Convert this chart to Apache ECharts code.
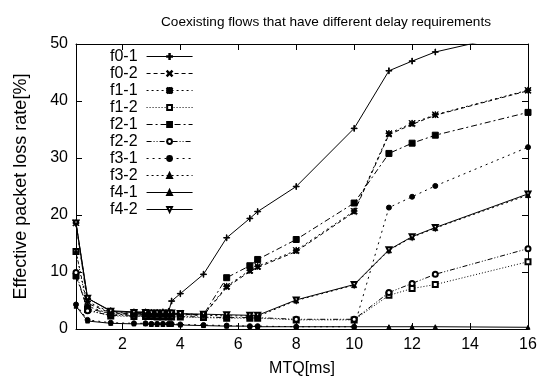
<!DOCTYPE html>
<html>
<head>
<meta charset="utf-8">
<script src="https://cdn.jsdelivr.net/npm/echarts@6/dist/echarts.min.js"></script>
<style>html,body{margin:0;padding:0;background:#fff;}#c{width:542px;height:382px;}</style>
</head>
<body>
<div id="c"></div>
<script>
var titleText = 'Coexisting flows that have different delay requirements';
var xName = 'MTQ[ms]';
var yName = 'Effective packet loss rate[%]';
var xTicks = [2, 4, 6, 8, 10, 12, 14, 16];
var yTicks = [0, 10, 20, 30, 40, 50];
var mtq = [0.4, 0.8, 1.6, 2.4, 2.8, 3.0, 3.2, 3.4, 3.6, 3.7, 4.0, 4.8, 5.6, 6.4, 6.67, 8, 10, 11.2, 12, 12.8, 16];
var names = ['f0-1', 'f0-2', 'f1-1', 'f1-2', 'f2-1', 'f2-2', 'f3-1', 'f3-2', 'f4-1', 'f4-2'];
var f0_1 = [18.6, 5.4, 3.2, 3.0, 3.0, 2.9, 2.9, 3.0, 3.1, 4.9, 6.2, 9.6, 16.0, 19.4, 20.6, 25.0, 35.2, 45.3, 47.0, 48.6, 52.3];
var f0_2 = [18.6, 4.5, 2.8, 2.7, 2.7, 2.6, 2.6, 2.6, 2.6, 2.6, 2.6, 2.4, 7.3, 10.1, 10.8, 13.6, 20.5, 34.1, 35.9, 37.5, 41.8];
var f1_1 = [18.6, 4.8, 2.9, 2.8, 2.8, 2.7, 2.7, 2.7, 2.7, 2.7, 2.7, 2.5, 7.5, 10.3, 11.0, 13.8, 20.7, 34.3, 36.1, 37.6, 41.9];
var f1_2 = [13.6, 3.4, 2.3, 2.2, 2.2, 2.2, 2.1, 2.1, 2.1, 2.1, 2.1, 2.0, 1.9, 1.9, 1.9, 1.6, 1.6, 5.9, 7.1, 7.8, 11.8];
var f2_1 = [9.3, 3.6, 2.7, 2.6, 2.6, 2.6, 2.6, 2.6, 2.6, 2.6, 2.6, 2.5, 9.0, 11.1, 12.2, 15.7, 22.1, 30.8, 32.6, 34.0, 38.0];
var f2_2 = [9.9, 3.2, 2.4, 2.3, 2.3, 2.3, 2.2, 2.2, 2.2, 2.2, 2.2, 2.1, 2.0, 2.0, 2.0, 1.7, 1.7, 6.4, 8.0, 9.6, 14.1];
var f3_1 = [4.3, 1.6, 1.1, 1.0, 1.0, 0.9, 0.9, 0.9, 0.9, 0.9, 0.8, 0.7, 0.6, 0.5, 0.5, 0.4, 0.4, 21.3, 23.2, 25.1, 31.9];
var f3_2 = [13.6, 4.0, 2.6, 2.5, 2.5, 2.5, 2.5, 2.5, 2.5, 2.5, 2.5, 2.4, 2.3, 2.3, 2.2, 5.0, 7.7, 13.8, 16.1, 17.7, 23.5];
var f4_1 = [4.0, 1.4, 1.0, 0.9, 0.9, 0.8, 0.8, 0.8, 0.8, 0.8, 0.7, 0.6, 0.5, 0.5, 0.4, 0.4, 0.4, 0.4, 0.4, 0.4, 0.3];
var f4_2 = [18.6, 5.4, 3.1, 2.9, 2.9, 2.8, 2.8, 2.8, 2.8, 2.8, 2.7, 2.6, 2.5, 2.4, 2.4, 5.1, 7.8, 13.9, 16.2, 17.8, 23.7];
var values = [f0_1, f0_2, f1_1, f1_2, f2_1, f2_2, f3_1, f3_2, f4_1, f4_2];

var PLUS = 'path://M4.5,0 H5.5 V4.5 H10 V5.5 H5.5 V10 H4.5 V5.5 H0 V4.5 H4.5 Z';
var CROSS = 'path://M0.7,0 L5,4.3 L9.3,0 L10,0.7 L5.7,5 L10,9.3 L9.3,10 L5,5.7 L0.7,10 L0,9.3 L4.3,5 L0,0.7 Z';
var STAR = 'path://M4.5,0 H5.5 V4.5 H10 V5.5 H5.5 V10 H4.5 V5.5 H0 V4.5 H4.5 Z M0.7,0 L5,4.3 L9.3,0 L10,0.7 L5.7,5 L10,9.3 L9.3,10 L5,5.7 L0.7,10 L0,9.3 L4.3,5 L0,0.7 Z';
var styles = [
  {sym: PLUS, size: 6, dash: 'solid', rot: 0},
  {sym: CROSS, size: 5, dash: [4, 3], rot: 0},
  {sym: STAR, size: 6, dash: [2, 3], rot: 0},
  {sym: 'emptyRect', size: 5, dash: [1, 2], rot: 0},
  {sym: 'rect', size: 6, dash: [6, 3, 2, 3], rot: 0},
  {sym: 'emptyCircle', size: 5, dash: [5, 2, 1, 2, 1, 2], rot: 0},
  {sym: 'circle', size: 5, dash: [2, 4], rot: 0},
  {sym: 'triangle', size: 5, dash: [2, 3], rot: 0},
  {sym: 'triangle', size: 4, dash: 'solid', rot: 0},
  {sym: 'emptyTriangle', size: 5, dash: 'solid', rot: 180}
];

var FONT = 'Liberation Sans';
var series = names.map(function (n, i) {
  return {
    name: n,
    type: 'line',
    data: mtq.map(function (x, j) { return [x, values[i][j]]; }),
    symbol: styles[i].sym,
    symbolSize: styles[i].size,
    symbolRotate: styles[i].rot,
    lineStyle: {color: '#000', width: 1, type: styles[i].dash},
    itemStyle: {color: '#000', borderColor: '#000', borderWidth: 1},
    emphasis: {disabled: true},
    clip: true
  };
});

var chart = echarts.init(document.getElementById('c'), null, {renderer: 'canvas'});
chart.setOption({
  animation: false,
  backgroundColor: '#fff',
  title: {
    text: titleText, left: 156, top: 10,
    textStyle: {fontFamily: FONT, fontSize: 13.6, fontWeight: 'normal', color: '#000'}
  },
  legend: {
    data: names, orient: 'vertical', left: 110, top: 48, padding: 0,
    align: 'right', itemWidth: 46, itemHeight: 6, itemGap: 0,
    lineStyle: {width: 1},
    textStyle: {fontFamily: FONT, fontSize: 16, lineHeight: 17, color: '#000', padding: [0, 4, 0, 0]},
    selectedMode: false
  },
  grid: {left: 76, right: 14, top: 44, bottom: 51, containLabel: false},
  xAxis: [{
    type: 'value', min: 0.4, max: 16,
    name: xName, nameLocation: 'middle', nameGap: 32,
    nameTextStyle: {fontFamily: FONT, fontSize: 16, color: '#000'},
    axisLine: {show: true, onZero: false, lineStyle: {color: '#000', width: 1}},
    axisTick: {show: true, inside: true, length: 6, customValues: xTicks, lineStyle: {color: '#000'}},
    axisLabel: {customValues: xTicks, fontFamily: FONT, fontSize: 16, color: '#000', margin: 8},
    splitLine: {show: false}
  }, {
    type: 'value', min: 0.4, max: 16, position: 'top',
    axisLine: {show: true, onZero: false, lineStyle: {color: '#000', width: 1}},
    axisTick: {show: true, inside: true, length: 6, customValues: xTicks, lineStyle: {color: '#000'}},
    axisLabel: {show: false},
    splitLine: {show: false}
  }],
  yAxis: [{
    type: 'value', min: 0, max: 50, interval: 10,
    name: yName, nameLocation: 'middle', nameGap: 46,
    nameTextStyle: {fontFamily: FONT, fontSize: 18, color: '#000'},
    axisLine: {show: true, onZero: false, lineStyle: {color: '#000', width: 1}},
    axisTick: {show: true, inside: true, length: 6, lineStyle: {color: '#000'}},
    axisLabel: {fontFamily: FONT, fontSize: 16, color: '#000', margin: 8},
    splitLine: {show: false}
  }, {
    type: 'value', min: 0, max: 50, interval: 10, position: 'right',
    axisLine: {show: true, onZero: false, lineStyle: {color: '#000', width: 1}},
    axisTick: {show: true, inside: true, length: 6, lineStyle: {color: '#000'}},
    axisLabel: {show: false},
    splitLine: {show: false}
  }],
  series: series
});
</script>
</body>
</html>
